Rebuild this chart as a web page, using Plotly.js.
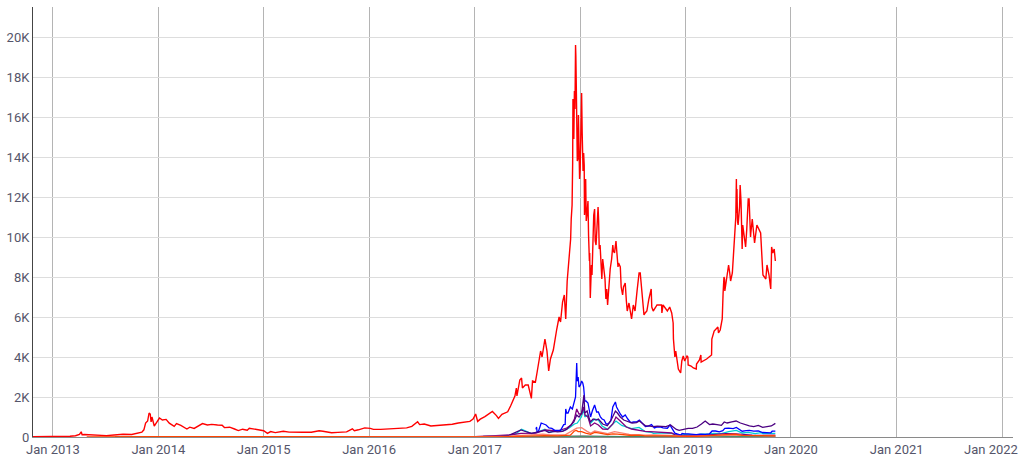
<!DOCTYPE html>
<html>
<head>
<meta charset="utf-8">
<script src="https://cdn.plot.ly/plotly-3.0.1.min.js"></script>
<style>
html,body{margin:0;padding:0;background:#fff;}
#chart{width:1024px;height:461px;}
</style>
</head>
<body>
<div id="chart"></div>
<script>
// ---------- DATA ----------
const btcDates = ['2012-10-24','2012-12-01','2013-01-01','2013-02-01','2013-03-01','2013-03-20','2013-04-03','2013-04-09','2013-04-12','2013-04-20','2013-05-15','2013-06-15','2013-07-05','2013-08-01','2013-09-01','2013-10-01','2013-10-20','2013-11-05','2013-11-12','2013-11-18','2013-11-25','2013-11-30','2013-12-04','2013-12-07','2013-12-10','2013-12-18','2013-12-24','2014-01-05','2014-01-15','2014-01-28','2014-02-08','2014-02-25','2014-03-05','2014-03-20','2014-04-10','2014-04-20','2014-05-05','2014-05-25','2014-06-03','2014-06-20','2014-07-05','2014-07-25','2014-08-10','2014-08-18','2014-09-05','2014-09-22','2014-10-05','2014-10-20','2014-11-05','2014-11-12','2014-12-01','2014-12-20','2015-01-01','2015-01-14','2015-01-25','2015-02-10','2015-03-10','2015-03-30','2015-04-20','2015-05-15','2015-06-15','2015-07-12','2015-07-25','2015-08-24','2015-09-15','2015-10-15','2015-11-04','2015-11-11','2015-11-25','2015-12-17','2016-01-05','2016-01-16','2016-02-10','2016-03-10','2016-04-10','2016-05-10','2016-05-28','2016-06-17','2016-06-24','2016-07-10','2016-08-02','2016-08-25','2016-09-20','2016-10-15','2016-11-05','2016-11-25','2016-12-15','2016-12-26','2017-01-04','2017-01-11','2017-01-20','2017-02-05','2017-02-24','2017-03-03','2017-03-17','2017-03-24','2017-04-05','2017-04-25','2017-05-05','2017-05-12','2017-05-20','2017-05-25','2017-05-27','2017-06-06','2017-06-12','2017-06-15','2017-06-25','2017-07-05','2017-07-16','2017-07-20','2017-07-30','2017-08-05','2017-08-13','2017-08-17','2017-08-22','2017-09-01','2017-09-08','2017-09-14','2017-09-20','2017-09-30','2017-10-12','2017-10-20','2017-10-25','2017-11-01','2017-11-07','2017-11-12','2017-11-17','2017-11-26','2017-11-29','2017-12-01','2017-12-04','2017-12-06','2017-12-07','2017-12-08','2017-12-10','2017-12-12','2017-12-14','2017-12-16','2017-12-17','2017-12-19','2017-12-21','2017-12-22','2017-12-24','2017-12-26','2017-12-29','2017-12-30','2018-01-01','2018-01-03','2018-01-06','2018-01-08','2018-01-11','2018-01-13','2018-01-15','2018-01-16','2018-01-18','2018-01-20','2018-01-22','2018-01-25','2018-01-28','2018-01-30','2018-02-02','2018-02-03','2018-02-05','2018-02-06','2018-02-09','2018-02-11','2018-02-15','2018-02-17','2018-02-20','2018-02-22','2018-02-25','2018-03-01','2018-03-04','2018-03-06','2018-03-08','2018-03-11','2018-03-13','2018-03-15','2018-03-17','2018-03-20','2018-03-22','2018-03-25','2018-03-28','2018-03-31','2018-04-03','2018-04-06','2018-04-12','2018-04-15','2018-04-20','2018-04-24','2018-04-26','2018-04-30','2018-05-05','2018-05-08','2018-05-12','2018-05-14','2018-05-20','2018-05-23','2018-05-28','2018-05-31','2018-06-06','2018-06-10','2018-06-13','2018-06-19','2018-06-24','2018-06-28','2018-07-04','2018-07-10','2018-07-17','2018-07-24','2018-07-28','2018-08-01','2018-08-08','2018-08-10','2018-08-14','2018-08-20','2018-08-27','2018-09-04','2018-09-06','2018-09-11','2018-09-20','2018-09-24','2018-09-28','2018-10-10','2018-10-11','2018-10-15','2018-10-30','2018-11-07','2018-11-14','2018-11-19','2018-11-20','2018-11-25','2018-11-28','2018-12-07','2018-12-15','2018-12-19','2018-12-24','2018-12-29','2019-01-06','2019-01-09','2019-01-10','2019-01-20','2019-01-28','2019-02-07','2019-02-08','2019-02-18','2019-02-23','2019-02-24','2019-03-15','2019-04-01','2019-04-02','2019-04-10','2019-04-23','2019-04-25','2019-05-01','2019-05-08','2019-05-11','2019-05-14','2019-05-16','2019-05-17','2019-05-24','2019-05-30','2019-06-03','2019-06-06','2019-06-12','2019-06-17','2019-06-21','2019-06-24','2019-06-26','2019-06-27','2019-06-28','2019-06-30','2019-07-02','2019-07-07','2019-07-09','2019-07-12','2019-07-14','2019-07-16','2019-07-18','2019-07-24','2019-07-28','2019-08-01','2019-08-06','2019-08-09','2019-08-14','2019-08-15','2019-08-20','2019-08-28','2019-09-05','2019-09-12','2019-09-18','2019-09-24','2019-09-26','2019-10-06','2019-10-10','2019-10-17','2019-10-23','2019-10-25','2019-10-26','2019-10-30','2019-11-04','2019-11-08'];
const btcValues = [11.5,12.5,13.3,20,34,65,135,260,110,125,115,100,70,97,135,125,175,240,360,700,800,1200,1150,750,1000,550,680,950,850,880,690,530,670,580,400,490,430,580,670,600,630,600,590,470,490,400,320,390,340,440,380,320,315,180,270,220,290,245,225,238,235,310,290,210,230,255,410,310,360,455,430,380,380,415,420,455,530,760,620,650,550,575,610,640,700,740,780,900,1150,780,890,1020,1180,1280,1070,930,1130,1260,1550,1750,2050,2450,2050,2850,2950,2450,2600,2600,1930,2800,2750,3250,4100,4300,4000,4900,4300,3300,3900,4350,5400,6000,5750,6750,7100,5900,7800,9300,9900,10900,11600,13700,16900,16000,14900,17300,16400,19600,19100,17100,15800,13800,13900,16100,14600,12900,13400,15200,17200,15200,13300,14200,13600,11100,11500,12900,10800,11200,11800,10100,8800,9200,6950,7750,8600,8100,10200,11100,11400,9800,9600,10900,11500,10800,9400,9600,9200,8300,7900,8900,8700,8400,7900,6900,7400,6600,7900,8400,8900,9600,9300,9200,9800,9200,8500,8700,8500,7500,7100,7500,7700,6800,6300,6700,6100,5900,6600,6300,7300,8200,8200,7600,6300,6100,6200,6300,6900,7400,6500,6300,6500,6600,6600,6600,6200,6600,6300,6500,6200,5700,4900,4000,4300,3400,3200,3800,4050,3800,4050,4000,3600,3550,3450,3400,3650,3850,4100,3750,3900,4100,4900,5300,5500,5200,5350,5900,7200,8000,7900,7300,8000,8600,8200,7800,8200,9300,10200,11000,12900,11200,12400,10800,10600,11500,12600,11800,10300,9400,10600,9800,9500,10400,11900,11900,10000,10200,10900,9700,10600,10400,10200,8600,8100,7900,8600,8100,7400,8700,9500,9200,9400,8800];

const bchDates = ['2017-08-01','2017-08-03','2017-08-05','2017-08-10','2017-08-19','2017-08-25','2017-09-05','2017-09-15','2017-09-25','2017-10-05','2017-10-15','2017-10-25','2017-11-05','2017-11-10','2017-11-12','2017-11-15','2017-11-20','2017-11-28','2017-12-05','2017-12-12','2017-12-16','2017-12-20','2017-12-22','2017-12-25','2017-12-28','2018-01-02','2018-01-06','2018-01-10','2018-01-13','2018-01-17','2018-01-21','2018-01-28','2018-02-02','2018-02-06','2018-02-12','2018-02-20','2018-02-27','2018-03-05','2018-03-12','2018-03-18','2018-03-25','2018-04-01','2018-04-08','2018-04-17','2018-04-24','2018-05-03','2018-05-07','2018-05-12','2018-05-20','2018-05-28','2018-06-06','2018-06-15','2018-06-25','2018-07-05','2018-07-15','2018-07-25','2018-08-05','2018-08-15','2018-08-25','2018-09-05','2018-09-15','2018-09-25','2018-10-05','2018-10-15','2018-10-30','2018-11-08','2018-11-15','2018-11-20','2018-11-25','2018-12-05','2018-12-15','2018-12-20','2018-12-28','2019-01-10','2019-01-25','2019-02-07','2019-02-20','2019-03-10','2019-03-25','2019-04-03','2019-04-15','2019-04-28','2019-05-10','2019-05-17','2019-05-30','2019-06-15','2019-06-26','2019-07-05','2019-07-16','2019-07-30','2019-08-10','2019-08-25','2019-09-10','2019-09-25','2019-10-10','2019-10-23','2019-10-28','2019-11-08'];
const bchValues = [380,500,220,300,700,650,600,450,430,330,320,330,620,630,1400,1200,1200,1500,1400,1800,2000,3700,2800,3000,2500,2600,2800,2700,2500,1800,1800,1700,1250,1000,1300,1600,1250,1250,1000,900,850,650,650,800,1500,1750,1500,1350,1150,1000,1100,900,720,750,750,850,650,520,540,620,450,500,510,460,440,600,430,270,190,150,90,180,155,160,125,118,140,130,160,300,300,260,320,430,440,420,480,400,290,320,330,290,300,225,220,210,290,290];

const mkrDates = ['2017-01-30','2017-04-01','2017-05-01','2017-05-20','2017-06-01','2017-06-10','2017-06-20','2017-07-05','2017-07-16','2017-08-01','2017-08-15','2017-09-01','2017-09-15','2017-10-01','2017-10-15','2017-11-01','2017-11-15','2017-12-01','2017-12-10','2017-12-20','2017-12-28','2018-01-06','2018-01-10','2018-01-14','2018-01-17','2018-01-25','2018-02-05','2018-02-15','2018-02-25','2018-03-05','2018-03-20','2018-04-05','2018-04-20','2018-05-03','2018-05-10','2018-05-20','2018-06-01','2018-06-15','2018-06-30','2018-07-15','2018-07-25','2018-08-05','2018-08-15','2018-08-25','2018-09-10','2018-09-25','2018-10-10','2018-10-25','2018-11-10','2018-11-20','2018-11-30','2018-12-10','2018-12-25','2019-01-10','2019-01-25','2019-02-10','2019-02-25','2019-03-10','2019-03-25','2019-04-05','2019-04-20','2019-05-05','2019-05-15','2019-05-25','2019-06-10','2019-06-25','2019-07-10','2019-07-25','2019-08-10','2019-08-25','2019-09-10','2019-09-25','2019-10-10','2019-10-25','2019-11-08'];
const mkrValues = [30,40,90,200,260,350,300,250,180,230,290,330,220,280,260,280,380,600,750,1100,1000,1200,1800,2100,1200,1300,750,900,850,900,650,560,900,1300,1200,1000,850,780,700,720,800,680,560,560,520,540,540,520,600,480,380,330,380,430,430,500,650,800,620,650,620,580,750,700,760,800,700,620,560,520,580,480,520,550,680];

const dashDates = ['2014-02-15','2015-01-01','2016-01-01','2016-06-01','2017-01-01','2017-03-15','2017-05-01','2017-06-10','2017-08-01','2017-09-01','2017-10-15','2017-11-15','2017-12-01','2017-12-12','2017-12-20','2017-12-28','2018-01-06','2018-01-12','2018-01-18','2018-01-28','2018-02-06','2018-02-20','2018-03-05','2018-03-20','2018-04-06','2018-04-24','2018-05-05','2018-05-20','2018-06-10','2018-06-28','2018-07-24','2018-08-14','2018-09-15','2018-10-15','2018-11-14','2018-11-25','2018-12-15','2019-01-15','2019-02-15','2019-03-15','2019-04-15','2019-05-20','2019-06-25','2019-07-20','2019-08-20','2019-09-20','2019-10-20','2019-11-08'];
const dashValues = [1,2,4,8,12,70,100,180,190,350,300,450,600,900,1400,1150,1150,1500,1100,1000,550,700,600,400,380,650,1000,800,500,400,350,280,260,220,200,120,75,80,75,95,130,170,160,120,95,85,80,90];

const ethDates = ['2015-08-07','2015-10-15','2016-01-01','2016-03-13','2016-06-17','2016-09-15','2017-01-01','2017-03-15','2017-05-01','2017-05-25','2017-06-12','2017-07-16','2017-08-01','2017-09-01','2017-09-15','2017-10-10','2017-11-01','2017-11-25','2017-12-12','2017-12-22','2018-01-05','2018-01-13','2018-01-17','2018-01-25','2018-02-06','2018-02-20','2018-03-05','2018-03-18','2018-04-06','2018-04-24','2018-05-05','2018-05-25','2018-06-10','2018-06-28','2018-07-24','2018-08-14','2018-09-05','2018-09-12','2018-10-10','2018-11-14','2018-11-25','2018-12-15','2018-12-24','2019-01-10','2019-02-07','2019-02-25','2019-03-20','2019-04-08','2019-05-05','2019-05-30','2019-06-26','2019-07-16','2019-08-06','2019-08-30','2019-09-19','2019-09-26','2019-10-23','2019-10-26','2019-11-08'];
const ethValues = [2.8,0.6,1,15,14,12,8,40,80,180,390,165,220,390,240,300,290,470,650,700,1000,1400,1000,1100,700,900,850,550,380,650,800,580,520,420,480,270,230,180,210,180,110,85,140,125,105,140,140,180,165,270,330,200,230,170,220,165,160,180,185];

const ltcDates = ['2013-04-28','2013-11-28','2013-12-20','2014-02-15','2014-06-15','2015-01-15','2015-07-15','2016-01-15','2016-07-15','2017-03-15','2017-05-25','2017-06-15','2017-08-30','2017-10-15','2017-11-28','2017-12-12','2017-12-19','2017-12-25','2018-01-06','2018-01-20','2018-02-06','2018-02-20','2018-03-05','2018-04-06','2018-04-24','2018-05-10','2018-06-28','2018-07-24','2018-08-14','2018-10-15','2018-11-25','2018-12-15','2019-01-10','2019-02-07','2019-03-01','2019-04-02','2019-05-14','2019-06-22','2019-07-16','2019-08-20','2019-09-25','2019-10-23','2019-11-08'];
const ltcValues = [4,45,22,15,10,2,4,3,4,4,30,45,70,60,90,300,330,270,270,190,130,230,210,115,160,140,75,90,55,55,30,25,35,33,46,90,95,140,85,75,55,50,60];

const xmrDates = ['2014-05-21','2015-06-01','2016-06-01','2017-01-01','2017-05-01','2017-08-25','2017-09-20','2017-11-10','2017-12-20','2018-01-06','2018-01-25','2018-02-06','2018-02-20','2018-03-15','2018-04-06','2018-04-30','2018-05-20','2018-06-20','2018-08-15','2018-09-15','2018-11-10','2018-12-15','2019-02-15','2019-05-15','2019-06-25','2019-07-20','2019-09-15','2019-11-08'];
const xmrValues = [2,1,8,14,40,140,100,110,440,470,280,190,300,230,170,270,200,130,95,110,80,45,45,90,100,80,65,60];

const xrpDates = ['2013-08-04','2015-01-01','2017-03-01','2017-05-20','2017-12-01','2018-01-04','2018-02-10','2018-06-01','2018-12-01','2019-06-01','2019-11-08'];
const xrpValues = [0.01,0.02,0.01,0.3,0.25,3.4,1,0.6,0.35,0.4,0.29];

const smallDates = ['2013-12-15','2014-06-01','2015-06-01','2016-06-01','2017-06-01','2018-01-10','2018-06-01','2019-01-01','2019-11-08'];
const smallValues = [1,0.5,0.3,0.3,5,60,20,8,10];

// ---------- CHART ----------
function line(x, y, color, w) {
  return {x: x, y: y, type: 'scatter', mode: 'lines', hoverinfo: 'skip',
          line: {color: color, width: w || 1.3}, showlegend: false};
}
const traces = [
  line(smallDates, smallValues, '#808080'),
  line(xrpDates, xrpValues, '#2E8B57'),
  line(ethDates, ethValues, '#00CED1'),
  line(dashDates, dashValues, '#800080'),
  line(bchDates, bchValues, '#0000FF'),
  line(mkrDates, mkrValues, '#4B0082'),
  line(xmrDates, xmrValues, '#FA8072'),
  line(ltcDates, ltcValues, '#FF4500'),
  line(btcDates, btcValues, '#FF0000', 1.4)
];

const yTickVals = [0,2000,4000,6000,8000,10000,12000,14000,16000,18000,20000];
const yTickText = ['0','2K','4K','6K','8K','10K','12K','14K','16K','18K','20K'];
const lastXTickLabel = 'Jan 2022';

const layout = {
  width: 1024, height: 461,
  margin: {l: 33, r: 11, t: 7, b: 24, pad: 0},
  paper_bgcolor: '#ffffff', plot_bgcolor: '#ffffff',
  font: {family: 'Roboto, sans-serif', size: 13, color: '#55556a'},
  showlegend: false,
  hovermode: false,
  xaxis: {
    type: 'date',
    range: ['2012-10-24', '2022-02-08'],
    tick0: '2013-01-01', dtick: 'M12', tickformat: '%b %Y',
    showgrid: true, gridcolor: '#b4b4b4', gridwidth: 1,
    showline: true, linecolor: '#8a8a8a', linewidth: 1,
    zeroline: false, ticks: '', fixedrange: true
  },
  yaxis: {
    range: [0, 21500],
    tickmode: 'array', tickvals: yTickVals, ticktext: yTickText,
    showgrid: true, gridcolor: '#dddddd', gridwidth: 1,
    showline: true, linecolor: '#444444', linewidth: 1,
    zeroline: false, ticks: '', fixedrange: true
  },
  annotations: [{
    text: lastXTickLabel, xref: 'paper', yref: 'paper', x: 1, y: 0,
    xanchor: 'right', yanchor: 'top', xshift: 7, yshift: -3,
    showarrow: false, font: {family: 'Roboto, sans-serif', size: 13, color: '#55556a'}
  }]
};

Plotly.newPlot('chart', traces, layout, {displayModeBar: false, staticPlot: true});
</script>
</body>
</html>
